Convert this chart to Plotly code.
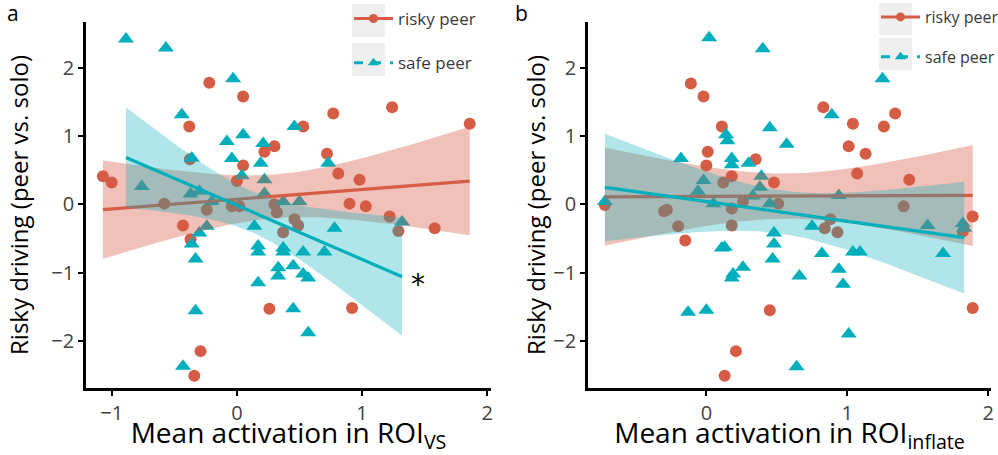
import numpy as np
import plotly.graph_objects as go

# ---------------- data ----------------
# Panel a: mean activation in ROI VS
a_risky_x = [-1.07, -1.00, -0.58, -0.43, -0.37, -0.38, -0.375, -0.29, -0.34, -0.24,
             -0.22, 0.05, -0.04, 0.02, 0.00, 0.05, 0.22, 0.30, 0.53, 0.77,
             1.24, 1.86, 0.72, 0.81, 0.98, 0.90, 1.03, 1.22, 1.58, 1.29,
             0.26, 0.92, 0.32, 0.30, 0.37, 0.46, 0.49]
a_risky_y = [0.41, 0.32, 0.01, -0.31, -0.51, 1.14, 0.66, -2.15, -2.51, -0.08,
             1.78, 1.58, -0.03, -0.03, 0.34, 0.57, 0.77, 0.85, 1.14, 1.33,
             1.42, 1.18, 0.74, 0.45, 0.36, 0.01, -0.03, -0.18, -0.35, -0.39,
             -1.53, -1.52, -0.12, 0.00, -0.41, -0.22, -0.31]
a_safe_x = [-0.886, -0.567, -0.03, -0.44, -0.08, 0.05, 0.21, -0.04, 0.19, 0.46,
            -0.36, -0.76, 0.04, 0.22, -0.37, -0.30, 0.22, 0.37, 0.50, -0.20,
            0.73, -0.24, -0.30, -0.36, -0.33, -0.33, -0.43, 0.14, 0.17, 0.17,
            0.17, 0.45, 0.57, 0.33, 0.33, 0.37, 0.37, 0.45, 0.53, 0.53,
            0.57, 0.70, 0.78, 1.32]
a_safe_y = [2.42, 2.29, 1.84, 1.31, 0.92, 1.02, 0.89, 0.67, 0.60, 1.14,
            0.68, 0.26, 0.42, 0.36, 0.15, 0.19, 0.16, 0.04, 0.04, 0.04,
            0.60, -0.32, -0.42, -0.58, -0.80, -1.56, -2.37, -0.32, -0.61, -0.70,
            -1.15, -1.53, -1.88, -0.93, -1.05, -0.64, -0.70, -0.90, -0.70, -1.02,
            -1.08, -0.70, -0.35, -0.26]

# Panel b: mean activation in ROI inflate
b_risky_x = [-0.11, -0.02, 0.11, 0.01, 0.00, 0.35, 0.18, 0.48, 0.12, 0.26,
             0.51, 0.83, 1.04, 1.01, 1.13, 1.07, 1.26, 1.34, 1.44, 1.40,
             1.89, -0.30, -0.28, -0.20, 0.18, 0.18, -0.15, 0.84, 0.88, 0.93,
             1.82, 1.89, 0.45, 0.21, 0.13, -0.72]
b_risky_y = [1.77, 1.58, 1.14, 0.77, 0.57, 0.66, 0.41, 0.32, 0.32, 0.04,
             0.01, 1.42, 1.18, 0.85, 0.74, 0.45, 1.14, 1.33, 0.36, -0.03,
             -0.18, -0.10, -0.08, -0.32, -0.06, -0.31, -0.53, -0.35, -0.22, -0.41,
             -0.40, -1.52, -1.55, -2.15, -2.51, -0.01]
b_safe_x = [0.02, 0.40, 0.14, 0.15, 0.45, 0.57, -0.18, 0.18, 0.18, 0.30,
            -0.02, 0.39, 0.38, -0.06, 0.33, 0.45, 0.05, -0.72, 0.89, 1.25,
            0.94, 0.11, 0.13, 0.48, 0.48, 0.47, 0.26, 0.19, 0.18, 0.66,
            0.75, 0.82, 0.94, 0.97, 1.04, 1.09, 1.01, 1.57, 1.68, 1.82,
            1.83, -0.13, 0.00, 0.64]
b_safe_y = [2.44, 2.28, 1.02, 0.93, 1.12, 0.88, 0.67, 0.67, 0.58, 0.60,
            0.35, 0.41, 0.25, 0.19, 0.12, 0.01, 0.01, 0.04, 1.31, 1.84,
            0.13, -0.64, -0.63, -0.42, -0.58, -0.80, -0.92, -1.02, -1.08, -1.05,
            -0.32, -0.72, -0.95, -1.17, -0.70, -0.70, -1.90, -0.31, -0.72, -0.28,
            -0.35, -1.58, -1.55, -2.38]

group_names = ["risky peer", "safe peer"]
x_ticks_a = [-1, 0, 1, 2]
x_ticks_b = [0, 1, 2]
y_ticks = [-2, -1, 0, 1, 2]

# ---------------- styling ----------------
RED = "#D65D45"
TEAL = "#00AFBB"
RED_FILL = "rgba(214,93,69,0.38)"
TEAL_FILL = "rgba(0,175,187,0.31)"
FONT = "Open Sans"
W, H = 998, 455


def fit_band(x, y, n=100, t=2.02):
    x = np.asarray(x, float)
    y = np.asarray(y, float)
    b1, b0 = np.polyfit(x, y, 1)
    xs = np.linspace(x.min(), x.max(), n)
    yhat = b0 + b1 * xs
    resid = y - (b0 + b1 * x)
    s = np.sqrt(np.sum(resid ** 2) / (len(x) - 2))
    sxx = np.sum((x - x.mean()) ** 2)
    se = s * np.sqrt(1.0 / len(x) + (xs - x.mean()) ** 2 / sxx)
    return xs, yhat, yhat - t * se, yhat + t * se


fig = go.Figure()


def add_panel(rx, ry, sx, sy, xref, yref):
    fig.add_trace(go.Scatter(x=rx, y=ry, mode="markers", xaxis=xref, yaxis=yref,
                             marker=dict(symbol="circle", size=12, color=RED),
                             showlegend=False, hoverinfo="skip"))
    fig.add_trace(go.Scatter(x=sx, y=sy, mode="markers", xaxis=xref, yaxis=yref,
                             marker=dict(symbol="triangle-up", size=14, color=TEAL),
                             showlegend=False, hoverinfo="skip"))
    for (gx, gy, col, fill) in [(rx, ry, RED, RED_FILL), (sx, sy, TEAL, TEAL_FILL)]:
        xs, yh, lo, hi = fit_band(gx, gy)
        fig.add_trace(go.Scatter(x=np.concatenate([xs, xs[::-1]]),
                                 y=np.concatenate([hi, lo[::-1]]),
                                 fill="toself", fillcolor=fill, mode="lines",
                                 line=dict(width=0), xaxis=xref, yaxis=yref,
                                 showlegend=False, hoverinfo="skip"))
        fig.add_trace(go.Scatter(x=xs, y=yh, mode="lines", xaxis=xref, yaxis=yref,
                                 line=dict(color=col, width=3.2),
                                 showlegend=False, hoverinfo="skip"))


add_panel(a_risky_x, a_risky_y, a_safe_x, a_safe_y, "x", "y")
add_panel(b_risky_x, b_risky_y, b_safe_x, b_safe_y, "x2", "y2")

# legend entries
for lg, xr, yr in [("legend", "x", "y"), ("legend2", "x2", "y2")]:
    fig.add_trace(go.Scatter(x=[None], y=[None], mode="lines+markers", name=group_names[0],
                             xaxis=xr, yaxis=yr, legend=lg, legendgroup=lg + "r",
                             line=dict(color=RED, width=3),
                             marker=dict(symbol="circle", size=9, color=RED)))
    fig.add_trace(go.Scatter(x=[None], y=[None], mode="lines+markers", name=group_names[1],
                             xaxis=xr, yaxis=yr, legend=lg, legendgroup=lg + "s",
                             line=dict(color=TEAL, width=3, dash="dash"),
                             marker=dict(symbol="triangle-up", size=10, color=TEAL)))


def px_x(p):
    return p / W


def px_y(p):
    return 1 - p / H


axis_common = dict(showgrid=False, zeroline=False, showline=True, linecolor="black",
                   linewidth=2.6, ticks="outside", ticklen=5, tickwidth=2, tickcolor="black",
                   tickfont=dict(family=FONT, size=20, color="#444444"), fixedrange=True)

XT_FONT = dict(family=FONT, size=28, color="black")
YT_FONT = dict(family=FONT, size=24, color="black")

fig.update_layout(
    width=W, height=H,
    margin=dict(l=0, r=0, t=0, b=0, autoexpand=False),
    paper_bgcolor="white", plot_bgcolor="white",
    font=dict(family=FONT),
    xaxis=dict(domain=[px_x(86), px_x(491)], range=[-1.205, 2.03], tickvals=x_ticks_a,
               anchor="y",
               title=dict(text="Mean activation in ROI<sub>VS</sub>", standoff=0, font=XT_FONT),
               **axis_common),
    yaxis=dict(domain=[px_y(388), px_y(22)], range=[-2.69, 2.67], tickvals=y_ticks,
               anchor="x",
               title=dict(text="Risky driving (peer vs. solo)", standoff=16, font=YT_FONT),
               **axis_common),
    xaxis2=dict(domain=[px_x(588), px_x(991)], range=[-0.84, 2.02], tickvals=x_ticks_b,
                anchor="y2",
                title=dict(text="Mean activation in ROI<sub>inflate</sub>", standoff=0,
                           font=XT_FONT),
                **axis_common),
    yaxis2=dict(domain=[px_y(388), px_y(22)], range=[-2.69, 2.67], tickvals=y_ticks,
                anchor="x2",
                title=dict(text="Risky driving (peer vs. solo)", standoff=1, font=YT_FONT),
                **axis_common),
    legend=dict(x=px_x(349), y=px_y(1), xanchor="left", yanchor="top",
                bgcolor="rgba(0,0,0,0)", traceorder="grouped", tracegroupgap=19,
                itemwidth=39, font=dict(family=FONT, size=17, color="#3A3A3A")),
    legend2=dict(x=px_x(876), y=1.0, xanchor="left", yanchor="top",
                 bgcolor="rgba(0,0,0,0)", traceorder="grouped", tracegroupgap=16,
                 itemwidth=39, font=dict(family=FONT, size=16, color="#3A3A3A")),
    showlegend=True,
)

# grey legend key backgrounds
for (x0, x1, y0, y1) in [(352, 385, 4, 37), (352, 385, 43, 76),
                         (879, 912, 3, 35), (879, 912, 38, 70)]:
    fig.add_shape(type="rect", xref="paper", yref="paper",
                  x0=px_x(x0), x1=px_x(x1), y0=px_y(y1), y1=px_y(y0),
                  fillcolor="#EFEFEF", line=dict(width=0), layer="below")

# panel labels and significance mark
fig.add_annotation(x=px_x(13), y=px_y(13), xref="paper", yref="paper", text="a",
                   xanchor="center", yanchor="middle",
                   showarrow=False, font=dict(family=FONT, size=21, color="black"))
fig.add_annotation(x=px_x(521), y=px_y(13), xref="paper", yref="paper", text="b",
                   xanchor="center", yanchor="middle",
                   showarrow=False, font=dict(family=FONT, size=21, color="black"))
fig.add_annotation(x=1.45, y=-1.17, xref="x", yref="y", text="*", showarrow=False,
                   font=dict(family="DejaVu Sans", size=28, color="black"))

# remove the browser's default 8px body margin so the figure fills the page exactly
fig.write_html("out.html", config={"displayModeBar": False},
               post_script="document.body.style.margin='0px';")
